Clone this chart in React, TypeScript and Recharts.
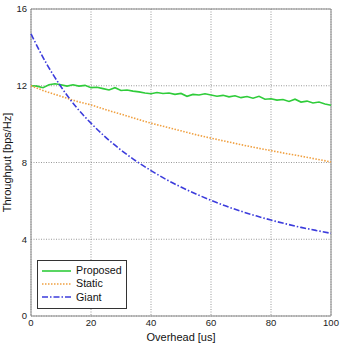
import React from 'react';
import { LineChart, Line, XAxis, YAxis, CartesianGrid, ReferenceArea, Legend } from 'recharts';

const xTicks = [0, 20, 40, 60, 80, 100];
const yTicks = [0, 4, 8, 12, 16];
const yMinorTicks = [0, 1, 2, 3, 4, 5, 6, 7, 8, 9, 10, 11, 12, 13, 14, 15, 16];
const seriesNames = ['Proposed', 'Static', 'Giant'];

const proposedX = [0, 2, 4, 6, 8, 10, 12, 14, 16, 18, 20, 22, 24, 26, 28, 30, 32, 34, 36, 38, 40, 42, 44, 46, 48, 50, 52, 54, 56, 58, 60, 62, 64, 66, 68, 70, 72, 74, 76, 78, 80, 82, 84, 86, 88, 90, 92, 94, 96, 98, 100];
const proposedY = [12.0, 11.98, 11.9, 12.05, 12.1, 12.05, 11.98, 12.05, 11.98, 12.02, 11.9, 11.92, 11.85, 11.78, 11.9, 11.75, 11.78, 11.72, 11.68, 11.62, 11.58, 11.65, 11.6, 11.62, 11.55, 11.6, 11.45, 11.55, 11.52, 11.58, 11.52, 11.45, 11.5, 11.42, 11.48, 11.38, 11.44, 11.35, 11.45, 11.3, 11.32, 11.25, 11.28, 11.18, 11.3, 11.15, 11.2, 11.1, 11.15, 11.05, 10.98];

const curveX = [0, 5, 10, 15, 20, 25, 30, 35, 40, 45, 50, 55, 60, 65, 70, 75, 80, 85, 90, 95, 100];
const staticY = [12.0, 11.7, 11.45, 11.2, 11.0, 10.75, 10.52, 10.28, 10.05, 9.85, 9.65, 9.45, 9.27, 9.1, 8.93, 8.77, 8.62, 8.47, 8.33, 8.18, 8.03];
const giantY = [14.7, 13.2, 11.95, 10.9, 10.05, 9.3, 8.65, 8.08, 7.58, 7.12, 6.72, 6.36, 6.03, 5.73, 5.46, 5.22, 5.0, 4.8, 4.62, 4.46, 4.31];

const proposedData = proposedX.map((x, i) => ({ x, y: proposedY[i] }));
const staticData = curveX.map((x, i) => ({ x, y: staticY[i] }));
const giantData = curveX.map((x, i) => ({ x, y: giantY[i] }));

const FONT = '"Liberation Sans", Arial, Helvetica, sans-serif';
const GREEN = '#2fcc3a';
const ORANGE = '#f0a040';
const BLUE = '#3c3cdc';

const styles: Record<string, { color: string; dash?: string }> = {
  Proposed: { color: GREEN },
  Static: { color: ORANGE, dash: '1.5 1.5' },
  Giant: { color: BLUE, dash: '6 2 1.5 2' },
};

const renderLegend = () => {
  return (
    <div
      style={{
        border: '1px solid #333',
        background: '#fff',
        width: 90,
        height: 49,
        boxSizing: 'border-box',
        padding: '3px 0 0 4px',
        fontFamily: FONT,
        fontSize: 10.7,
        color: '#111',
        textAlign: 'left',
      }}
    >
      {seriesNames.map((name) => {
        const s = styles[name];
        return (
          <div key={name} style={{ display: 'flex', alignItems: 'center', height: 13.3 }}>
            <svg width={30} height={6} style={{ display: 'block' }}>
              <line x1={0} y1={3} x2={29} y2={3} stroke={s.color} strokeWidth={1.6} strokeDasharray={s.dash} />
            </svg>
            <span style={{ marginLeft: 4, lineHeight: '13px' }}>{name}</span>
          </div>
        );
      })}
    </div>
  );
};

export default function App() {
  return (
    <div style={{ position: 'absolute', left: 0, top: 0 }}>
      <LineChart width={341} height={343} margin={{ top: 9, right: 10, bottom: 0, left: 0 }}>
        <CartesianGrid stroke="#999" strokeDasharray="1 1.5" />
        <XAxis
          dataKey="x"
          type="number"
          domain={[0, 100]}
          ticks={xTicks}
          height={27}
          axisLine={false}
          tickLine={false}
          tickSize={0}
          tickMargin={3}
          tick={{ fontSize: 9.5, fill: '#222', fontFamily: FONT }}
          allowDuplicatedCategory={false}
          label={{ value: 'Overhead [us]', position: 'insideBottom', offset: 2, style: { fontSize: 11, fill: '#111', fontFamily: FONT } }}
        />
        <YAxis
          type="number"
          domain={[0, 16]}
          ticks={yTicks}
          width={31}
          axisLine={false}
          tickLine={false}
          tickSize={0}
          tickMargin={4}
          tick={{ fontSize: 9.5, fill: '#222', fontFamily: FONT }}
          label={{ value: 'Throughput [bps/Hz]', angle: -90, position: 'insideLeft', offset: 7, style: { fontSize: 11, fill: '#111', fontFamily: FONT, textAnchor: 'middle' } }}
        />
        <YAxis yAxisId="minorL" orientation="left" mirror type="number" domain={[0, 16]} ticks={yMinorTicks} width={1} axisLine={false} tick={false} tickSize={3} tickLine={{ stroke: '#777' }} />
        <YAxis yAxisId="minorR" orientation="right" mirror type="number" domain={[0, 16]} ticks={yMinorTicks} width={1} axisLine={false} tick={false} tickSize={3} tickLine={{ stroke: '#777' }} />
        <ReferenceArea x1={0} x2={100} y1={0} y2={16} fill="none" stroke="#888" strokeWidth={1} ifOverflow="visible" />
        <Line data={proposedData} dataKey="y" name="Proposed" type="linear" stroke={GREEN} strokeWidth={1.6} dot={false} isAnimationActive={false} />
        <Line data={staticData} dataKey="y" name="Static" type="monotone" stroke={ORANGE} strokeWidth={1.6} strokeDasharray="1.5 1.5" dot={false} isAnimationActive={false} />
        <Line data={giantData} dataKey="y" name="Giant" type="monotone" stroke={BLUE} strokeWidth={1.6} strokeDasharray="6 2 1.5 2" dot={false} isAnimationActive={false} />
        <Legend
          layout="horizontal"
          verticalAlign="middle"
          align="center"
          content={renderLegend}
          wrapperStyle={{ position: 'absolute', left: 37, top: 260, width: 'auto', height: 'auto' }}
        />
      </LineChart>
    </div>
  );
}
